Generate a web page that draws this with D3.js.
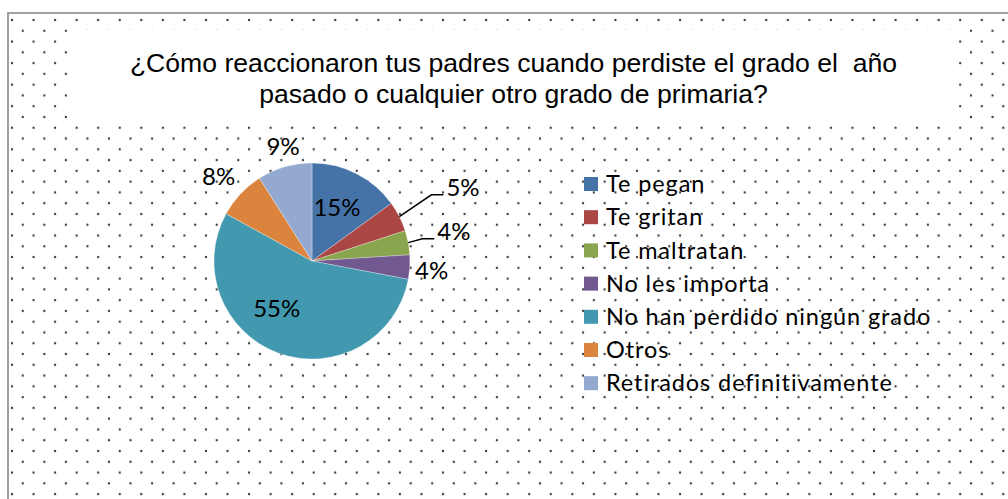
<!DOCTYPE html>
<html>
<head>
<meta charset="utf-8">
<script src="https://cdn.jsdelivr.net/npm/d3@7"></script>
<style>
  body { margin: 0; background: #fff; }
  svg { display: block; }
</style>
</head>
<body>
<div id="chart"></div>
<script>
// data
var categories = ['Te pegan', 'Te gritan', 'Te maltratan', 'No les importa',
    'No han perdido ningún grado', 'Otros', 'Retirados definitivamente'];
var values = [15, 5, 4, 4, 55, 8, 9];
var colors = ['#4572A7', '#AA4643', '#89A54E', '#71588F', '#4198AF', '#DB843D', '#93A9CF'];
var titleLines = ['¿Cómo reaccionaron tus padres cuando perdiste el grado el  año',
    'pasado o cualquier otro grado de primaria?'];

var width = 1008, height = 499;
var cx = 312, cy = 261, radius = 98;

var svg = d3.select('#chart').append('svg')
    .attr('width', width)
    .attr('height', height);

/* dotted background */
var step = 21.55;
var pat = svg.append('defs').append('pattern')
    .attr('id', 'dots')
    .attr('patternUnits', 'userSpaceOnUse')
    .attr('x', 12).attr('y', 20)
    .attr('width', step).attr('height', step);
[[0, 0], [step, 0], [0, step], [step, step], [step / 2, step / 2]].forEach(function (p) {
    pat.append('circle')
        .attr('cx', p[0]).attr('cy', p[1])
        .attr('r', 1.15)
        .attr('fill', '#3a3a3a');
});

svg.append('rect')
    .attr('x', 8).attr('y', 13)
    .attr('width', width + 20).attr('height', height + 20)
    .attr('fill', 'url(#dots)')
    .attr('stroke', '#8a8a8a')
    .attr('stroke-width', 1.6);

/* title */
svg.append('rect')
    .attr('x', 74).attr('y', 29.5)
    .attr('width', 881).attr('height', 89)
    .attr('fill', '#fff');

svg.selectAll('.title')
    .data(titleLines)
    .enter().append('text')
    .attr('class', 'title')
    .attr('x', 513.5)
    .attr('y', function (d, i) { return 71.5 + i * 31.5; })
    .attr('text-anchor', 'middle')
    .style('white-space', 'pre')
    .style('font-family', 'Liberation Sans, Arial, sans-serif')
    .style('font-size', '26.6px')
    .attr('fill', '#000')
    .text(function (d) { return d; });

/* pie */
var pie = d3.pie().sort(null).value(function (d) { return d; });
var arc = d3.arc().innerRadius(0).outerRadius(radius);
var arcs = pie(values);

var g = svg.append('g').attr('transform', 'translate(' + cx + ',' + cy + ')');

g.selectAll('path')
    .data(arcs)
    .enter().append('path')
    .attr('d', arc)
    .attr('fill', function (d, i) { return colors[i]; })
    .attr('stroke', 'rgba(255,255,255,0.5)')
    .attr('stroke-width', 0.6);

/* label placement: [angle nudge in degrees, distance from centre] */
var labelPlace = [[-2, 59], [1, 168], [-1, 145], [1, 120], [17, 59], [-1, 126], [2, 118]];
var leader = [false, true, true, false, false, false, false];

function polar(a, r) {
    return [Math.sin(a) * r, -Math.cos(a) * r];
}

arcs.forEach(function (d, i) {
    var mid = (d.startAngle + d.endAngle) / 2;
    var p = polar(mid + labelPlace[i][0] * Math.PI / 180, labelPlace[i][1]);
    var txt = g.append('text')
        .attr('x', p[0])
        .attr('y', p[1])
        .attr('dy', '0.35em')
        .attr('text-anchor', 'middle')
        .style('font-family', 'Lato, sans-serif')
        .style('font-size', '24px')
        .attr('fill', '#000')
        .text(values[i] + '%');

    if (leader[i]) {
        var w = txt.node().getComputedTextLength();
        var left = p[0] - w / 2;
        var edge = polar(mid, radius);
        g.append('path')
            .attr('d', d3.line()([edge, [left - 15, p[1] + 7.5], [left - 3, p[1] + 7.5]]))
            .attr('fill', 'none')
            .attr('stroke', '#000')
            .attr('stroke-width', 1.5);
    }
});

/* legend */
var legend = svg.append('g').attr('transform', 'translate(584,184)');
var rows = legend.selectAll('g')
    .data(categories)
    .enter().append('g')
    .attr('transform', function (d, i) { return 'translate(0,' + (i * 33.2) + ')'; });

rows.append('rect')
    .attr('x', 0).attr('y', -7)
    .attr('width', 14).attr('height', 14)
    .attr('fill', function (d, i) { return colors[i]; });

rows.append('text')
    .attr('x', 22)
    .attr('y', 0)
    .attr('dy', '0.35em')
    .style('font-family', 'Lato, sans-serif')
    .style('font-size', '23.5px')
    .style('letter-spacing', '0.9px')
    .attr('fill', '#000')
    .text(function (d) { return d; });
</script>
</body>
</html>
